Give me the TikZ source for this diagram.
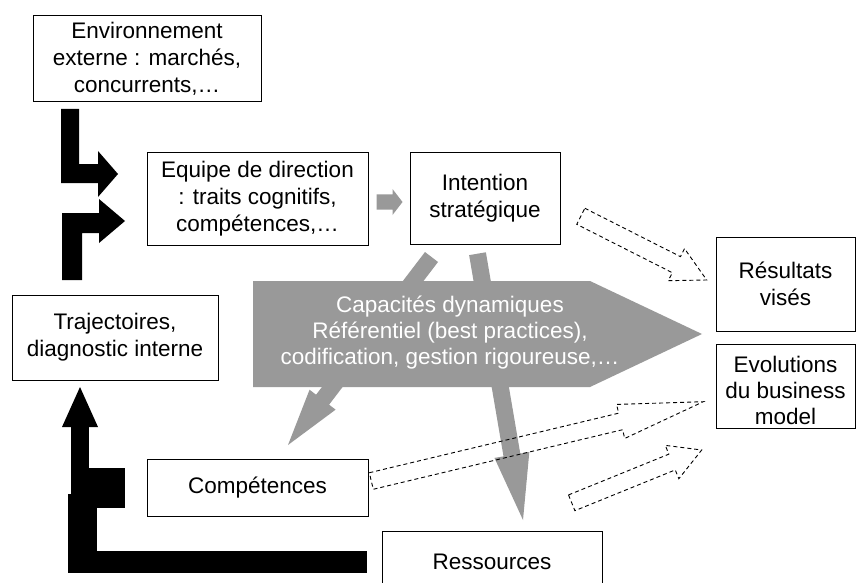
\documentclass[tikz,border=0pt]{standalone}
\usepackage{fontspec}
\setmainfont{Liberation Sans}
\usetikzlibrary{calc}
\definecolor{arrowgray}{RGB}{153,153,153}
\tikzset{
  box/.style={draw=black, line width=1pt, fill=white, align=center, inner sep=0pt,
    font=\fontsize{22.5}{27}\selectfont, text=black},
  grayarrow/.style={fill=arrowgray},
  dasharrow/.style={draw=black, line width=0.9pt, dash pattern=on 4pt off 3pt, line join=miter},
  blackshape/.style={fill=black},
  captext/.style={font=\fontsize{22.5}{26}\selectfont, text=white, align=center, inner sep=0pt},
}
% #1 style, #2 from, #3 to, #4 shaft half width, #5 head half width, #6 head length
\newcommand\blockarrow[6]{%
  \coordinate (hb) at ($(#3)!#6!(#2)$);
  \path[#1] ($(#2)!#4!90:(#3)$) -- ($(hb)!#4!90:(#3)$) -- ($(hb)!#5!90:(#3)$) -- (#3)
    -- ($(hb)!#5!-90:(#3)$) -- ($(hb)!#4!-90:(#3)$) -- ($(#2)!#4!-90:(#3)$) -- cycle;
}
\begin{document}
\begin{tikzpicture}[x=1pt,y=-1pt]
\useasboundingbox (0,0) rectangle (856,583);
\clip (0,0) rectangle (856,583);
\fill[white] (0,0) rectangle (856,583);

% gray arrows (behind)
\coordinate (gl1) at (431.5,257);
\coordinate (gl2) at (288,445);
\coordinate (gr1) at (477.5,253.7);
\coordinate (gr2) at (523,520);
\coordinate (gs1) at (376.7,202);
\coordinate (gs2) at (402.5,202);
\blockarrow{grayarrow}{gl1}{gl2}{8.2pt}{16.4pt}{57pt}
\blockarrow{grayarrow}{gr1}{gr2}{8.5pt}{17.7pt}{66pt}
\blockarrow{grayarrow}{gs1}{gs2}{7.7pt}{13pt}{10pt}

% big gray pentagon
\fill[arrowgray] (253,281) -- (590,281) -- (702,334) -- (590,387) -- (253,387) -- cycle;
\node[captext] (cap) at (450,333) {Capacités dynamiques\\Référentiel (best practices),\\codification, gestion rigoureuse,…};

% boxes
\node[box, minimum width=228pt, minimum height=86pt] (env) at (147,59)
  {Environnement\\externe : marchés,\\concurrents,…};
\node[box, minimum width=221pt, minimum height=93pt] (equipe) at (257.5,198.5)
  {Equipe de direction\\: traits cognitifs,\\compétences,…};
\node[box, minimum width=150pt, minimum height=92pt] (intent) at (485,198)
  {Intention\\stratégique};
\node[box, minimum width=139pt, minimum height=94pt] (res) at (785.5,284)
  {Résultats\\visés};
\node[box, minimum width=139pt, minimum height=84pt] (evo) at (785.5,386) {};
\node[align=center, inner sep=0pt, font=\fontsize{22.5}{26}\selectfont] (evotext) at (785.5,390)
  {Evolutions\\du business\\model};
\node[box, minimum width=206pt, minimum height=85pt] (traj) at (115,337.5)
  {Trajectoires,\\diagnostic interne};
\node[box, minimum width=221pt, minimum height=57pt] (comp) at (257.5,487.5)
  {Compétences};
\node[box, minimum width=220pt, minimum height=62pt] (ress) at (492,562)
  {Ressources};

% black bent arrows
\fill[blackshape] (61,109) -- (79,109) -- (79,164) -- (98,164) -- (98,151) -- (118,174)
  -- (98,197) -- (98,183) -- (61,183) -- cycle;
\fill[blackshape] (62,280) -- (62,213) -- (99,213) -- (99,199) -- (125,221) -- (99,243)
  -- (99,233) -- (82,233) -- (82,280) -- cycle;
\fill[blackshape] (62,427) -- (80,387) -- (98,427) -- cycle;
\fill[blackshape] (71,426) rectangle (89,500);
\fill[blackshape] (89,468) rectangle (125,508);
\fill[blackshape] (68,494) rectangle (97,573);
\fill[blackshape] (97,551) rectangle (367,573);

% dashed hollow arrows
\coordinate (d1a) at (580.8,216.3);
\coordinate (d1b) at (706.7,280);
\coordinate (d2a) at (371.3,481);
\coordinate (d2b) at (703.3,401.7);
\coordinate (d3a) at (571.7,502.8);
\coordinate (d3b) at (701.7,450);
\blockarrow{dasharrow}{d1a}{d1b}{9pt}{18pt}{34pt}
\blockarrow{dasharrow}{d2a}{d2b}{8.5pt}{17.5pt}{85pt}
\blockarrow{dasharrow}{d3a}{d3b}{8.5pt}{18pt}{32pt}
\end{tikzpicture}
\end{document}
